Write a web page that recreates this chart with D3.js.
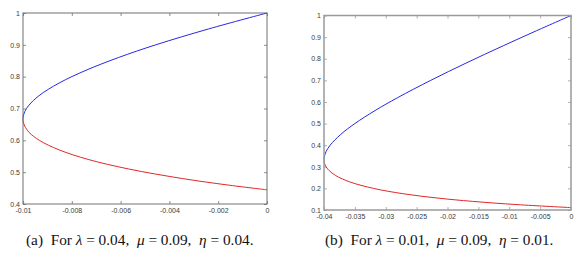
<!DOCTYPE html>
<html>
<head>
<meta charset="utf-8">
<script src="https://cdn.jsdelivr.net/npm/d3@7"></script>
<style>
  body { margin: 0; background: #fff; }
  svg { display: block; }
</style>
</head>
<body>
<div id="chart"></div>
<script>
// ----- data -----
// panel (a): lambda = 0.04
const aBlueX = [-0.0100, -0.00999, -0.00993, -0.00976, -0.00935, -0.00852, -0.00742, -0.00609, -0.00456, -0.00239, 0];
const aBlueY = [0.6667, 0.675, 0.69, 0.71, 0.74, 0.78, 0.82, 0.86, 0.90, 0.95, 1.0];
const aRedX = [-0.0100, -0.00999, -0.00993, -0.00975, -0.00933, -0.00852, -0.00733, -0.00567, -0.00347, -0.00164, 0];
const aRedY = [0.6667, 0.658, 0.645, 0.625, 0.60, 0.57, 0.54, 0.51, 0.48, 0.46, 0.4445];
const aXTicks = [-0.01, -0.008, -0.006, -0.004, -0.002, 0];
const aXLabels = ["-0.01", "-0.008", "-0.006", "-0.004", "-0.002", "0"];
const aYTicks = [0.4, 0.5, 0.6, 0.7, 0.8, 0.9, 1];
const aYLabels = ["0.4", "0.5", "0.6", "0.7", "0.8", "0.9", "1"];

// panel (b): lambda = 0.01
const bBlueX = [-0.0400, -0.03996, -0.03967, -0.0390, -0.03728, -0.0350, -0.03174, -0.02807, -0.02271, -0.01698, -0.01097, -0.00555, 0];
const bBlueY = [0.3333, 0.345, 0.37, 0.40, 0.45, 0.50, 0.56, 0.62, 0.70, 0.78, 0.86, 0.93, 1.0];
const bRedX = [-0.0400, -0.03996, -0.03984, -0.03942, -0.03814, -0.03582, -0.0320, -0.02711, -0.02153, -0.01597, -0.00875, 0];
const bRedY = [0.3333, 0.322, 0.31, 0.29, 0.26, 0.23, 0.20, 0.175, 0.155, 0.14, 0.125, 0.1111];
const bXTicks = [-0.04, -0.035, -0.03, -0.025, -0.02, -0.015, -0.01, -0.005, 0];
const bXLabels = ["-0.04", "-0.035", "-0.03", "-0.025", "-0.02", "-0.015", "-0.01", "-0.005", "0"];
const bYTicks = [0.1, 0.2, 0.3, 0.4, 0.5, 0.6, 0.7, 0.8, 0.9, 1];
const bYLabels = ["0.1", "0.2", "0.3", "0.4", "0.5", "0.6", "0.7", "0.8", "0.9", "1"];

const svg = d3.select('#chart').append('svg')
    .attr('width', 586)
    .attr('height', 257);

function panel(opt){
    const x = d3.scaleLinear().domain([opt.xTicks[0], opt.xTicks[opt.xTicks.length-1]]).range([opt.left, opt.right]);
    const y = d3.scaleLinear().domain([opt.yTicks[0], opt.yTicks[opt.yTicks.length-1]]).range([opt.bottom, opt.top]);
    const g = svg.append('g');

    const fmtX = d => opt.xLabels[opt.xTicks.indexOf(d)];
    const fmtY = d => opt.yLabels[opt.yTicks.indexOf(d)];

    const styleAxis = sel => {
        sel.attr('font-family', 'Liberation Sans').attr('font-size', 7);
        sel.select('.domain').remove();
        sel.selectAll('line').attr('stroke', opt.boxColor).attr('stroke-width', 0.8);
        sel.selectAll('text').attr('fill', '#3a3a3a');
    };

    g.append('g').attr('transform', `translate(0,${opt.bottom})`)
        .call(d3.axisBottom(x).tickValues(opt.xTicks).tickFormat(fmtX).tickSize(-3).tickPadding(4))
        .call(styleAxis);
    g.append('g').attr('transform', `translate(0,${opt.top})`)
        .call(d3.axisTop(x).tickValues(opt.xTicks).tickFormat('').tickSize(-3))
        .call(styleAxis);
    g.append('g').attr('transform', `translate(${opt.left},0)`)
        .call(d3.axisLeft(y).tickValues(opt.yTicks).tickFormat(fmtY).tickSize(-3).tickPadding(3))
        .call(styleAxis);
    g.append('g').attr('transform', `translate(${opt.right},0)`)
        .call(d3.axisRight(y).tickValues(opt.yTicks).tickFormat('').tickSize(-3))
        .call(styleAxis);

    const line = d3.line()
        .x(d => x(d[0]))
        .y(d => y(d[1]))
        .curve(d3.curveCatmullRom.alpha(0.5));

    const blue = opt.blueX.map((v, i) => [v, opt.blueY[i]]);
    const red = opt.redX.map((v, i) => [v, opt.redY[i]]);

    g.append('path').datum(red)
        .attr('d', line).attr('fill', 'none')
        .attr('stroke', '#e02828').attr('stroke-width', 1);
    g.append('path').datum(blue)
        .attr('d', line).attr('fill', 'none')
        .attr('stroke', '#2828e0').attr('stroke-width', 1);

    g.append('rect')
        .attr('x', opt.left).attr('y', opt.top)
        .attr('width', opt.right - opt.left).attr('height', opt.bottom - opt.top)
        .attr('fill', 'none')
        .attr('stroke', opt.boxColor)
        .attr('stroke-width', opt.boxWidth);

    // caption
    const cap = svg.append('text')
        .attr('x', opt.capX).attr('y', 245)
        .attr('font-family', 'Liberation Serif')
        .attr('font-size', 15.3)
        .attr('fill', '#111');
    cap.append('tspan').text(opt.tag + '\u2002For ');
    cap.append('tspan').attr('font-style', 'italic').text('\u03bb');
    cap.append('tspan').text(' = ' + opt.lam + ',\u2002');
    cap.append('tspan').attr('font-style', 'italic').text('\u03bc');
    cap.append('tspan').text(' = 0.09,\u2002');
    cap.append('tspan').attr('font-style', 'italic').text('\u03b7');
    cap.append('tspan').text(' = ' + opt.lam + '.');
}

panel({
    left: 23, right: 267, top: 13, bottom: 204,
    xTicks: aXTicks, xLabels: aXLabels, yTicks: aYTicks, yLabels: aYLabels,
    blueX: aBlueX, blueY: aBlueY, redX: aRedX, redY: aRedY,
    boxColor: '#707070', boxWidth: 1,
    capX: 26, tag: '(a)', lam: '0.04'
});

panel({
    left: 324, right: 571, top: 15.5, bottom: 210,
    xTicks: bXTicks, xLabels: bXLabels, yTicks: bYTicks, yLabels: bYLabels,
    blueX: bBlueX, blueY: bBlueY, redX: bRedX, redY: bRedY,
    boxColor: '#9a9a9a', boxWidth: 1.5,
    capX: 325, tag: '(b)', lam: '0.01'
});
</script>
</body>
</html>
